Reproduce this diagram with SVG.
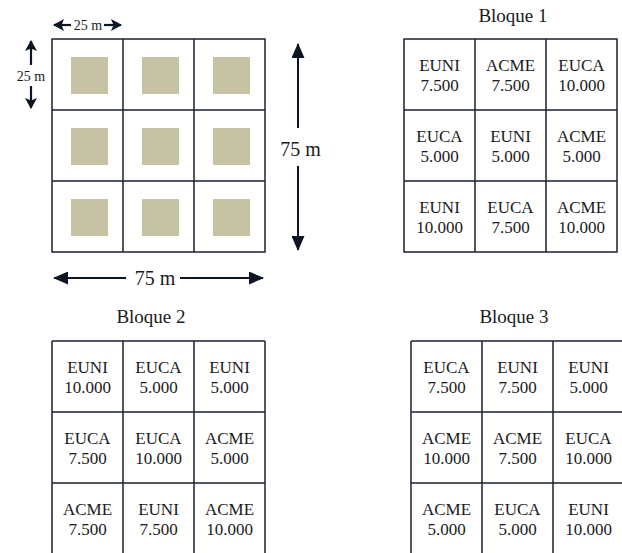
<svg xmlns="http://www.w3.org/2000/svg" width="622" height="553" viewBox="0 0 622 553">
<style>
.bg{fill:#ffffff}
.grid{fill:none;stroke:#1c2233;stroke-width:1.5}
.plot{fill:#c5c3a3}
text{font-family:"Liberation Serif","Times New Roman",serif;fill:#1a1a1a;text-anchor:middle}
.c{font-size:17px}
.t{font-size:19px}
.d{font-size:20px}
.s{font-size:14px}
.ar{stroke:#0d1424;stroke-width:2;fill:none}
.ars{stroke:#0d1424;stroke-width:2.2;fill:none}
</style>
<defs>
<marker id="big" viewBox="0 0 15 13" refX="14" refY="6.5" markerWidth="15" markerHeight="13" markerUnits="userSpaceOnUse" orient="auto">
<path d="M0,0 L15,6.5 L0,13 z" fill="#0d1424"/>
</marker>
<marker id="small" viewBox="0 0 11 12" refX="10" refY="6" markerWidth="11" markerHeight="12" markerUnits="userSpaceOnUse" orient="auto">
<path d="M0,0 L11,6 L0,12 L2.5,6 z" fill="#0d1424"/>
</marker>
</defs>
<rect class="bg" x="0" y="0" width="622" height="553"/>

<g id="field">
<g class="plot">
<rect x="71" y="57" width="37" height="37"/><rect x="142" y="57" width="37" height="37"/><rect x="213" y="57" width="37" height="37"/>
<rect x="71" y="128" width="37" height="37"/><rect x="142" y="128" width="37" height="37"/><rect x="213" y="128" width="37" height="37"/>
<rect x="71" y="199" width="37" height="37"/><rect x="142" y="199" width="37" height="37"/><rect x="213" y="199" width="37" height="37"/>
</g>
<path class="grid" d="M52,39 H265 V252 H52 Z M123,39 V252 M194,39 V252 M52,110 H265 M52,181 H265"/>
</g>

<g id="bloque1">
<text class="t" x="513" y="22">Bloque 1</text>
<path class="grid" d="M404,39 H617 V252 H404 Z M475,39 V252 M546,39 V252 M404,110 H617 M404,181 H617"/>
<g class="c">
<text x="439.5" y="70.5">EUNI</text><text x="439.5" y="91">7.500</text>
<text x="510.5" y="70.5">ACME</text><text x="510.5" y="91">7.500</text>
<text x="581.5" y="70.5">EUCA</text><text x="581.5" y="91">10.000</text>
<text x="439.5" y="141.5">EUCA</text><text x="439.5" y="162">5.000</text>
<text x="510.5" y="141.5">EUNI</text><text x="510.5" y="162">5.000</text>
<text x="581.5" y="141.5">ACME</text><text x="581.5" y="162">5.000</text>
<text x="439.5" y="212.5">EUNI</text><text x="439.5" y="233">10.000</text>
<text x="510.5" y="212.5">EUCA</text><text x="510.5" y="233">7.500</text>
<text x="581.5" y="212.5">ACME</text><text x="581.5" y="233">10.000</text>
</g>
</g>

<g id="bloque2">
<text class="t" x="151" y="323">Bloque 2</text>
<path class="grid" d="M52,341 H265 M52,341 V560 M123,341 V560 M194,341 V560 M265,341 V560 M52,412 H265 M52,483 H265"/>
<g class="c">
<text x="87.5" y="372.5">EUNI</text><text x="87.5" y="393">10.000</text>
<text x="158.5" y="372.5">EUCA</text><text x="158.5" y="393">5.000</text>
<text x="229.5" y="372.5">EUNI</text><text x="229.5" y="393">5.000</text>
<text x="87.5" y="443.5">EUCA</text><text x="87.5" y="464">7.500</text>
<text x="158.5" y="443.5">EUCA</text><text x="158.5" y="464">10.000</text>
<text x="229.5" y="443.5">ACME</text><text x="229.5" y="464">5.000</text>
<text x="87.5" y="514.5">ACME</text><text x="87.5" y="535">7.500</text>
<text x="158.5" y="514.5">EUNI</text><text x="158.5" y="535">7.500</text>
<text x="229.5" y="514.5">ACME</text><text x="229.5" y="535">10.000</text>
</g>
</g>

<g id="bloque3">
<text class="t" x="514" y="323">Bloque 3</text>
<path class="grid" d="M411,341 H630 M411,341 V560 M482,341 V560 M553,341 V560 M624,341 V560 M411,412 H630 M411,483 H630"/>
<g class="c">
<text x="446.5" y="372.5">EUCA</text><text x="446.5" y="393">7.500</text>
<text x="517.5" y="372.5">EUNI</text><text x="517.5" y="393">7.500</text>
<text x="588.5" y="372.5">EUNI</text><text x="588.5" y="393">5.000</text>
<text x="446.5" y="443.5">ACME</text><text x="446.5" y="464">10.000</text>
<text x="517.5" y="443.5">ACME</text><text x="517.5" y="464">7.500</text>
<text x="588.5" y="443.5">EUCA</text><text x="588.5" y="464">10.000</text>
<text x="446.5" y="514.5">ACME</text><text x="446.5" y="535">5.000</text>
<text x="517.5" y="514.5">EUCA</text><text x="517.5" y="535">5.000</text>
<text x="588.5" y="514.5">EUNI</text><text x="588.5" y="535">10.000</text>
</g>
</g>

<g id="connectors">
<line class="ars" x1="71" y1="25" x2="54" y2="25" marker-end="url(#small)"/>
<line class="ars" x1="104" y1="25" x2="121" y2="25" marker-end="url(#small)"/>
<line class="ars" x1="31" y1="65" x2="31" y2="41" marker-end="url(#small)"/>
<line class="ars" x1="31" y1="86" x2="31" y2="108" marker-end="url(#small)"/>
<line class="ar" x1="298" y1="128" x2="298" y2="44" marker-end="url(#big)"/>
<line class="ar" x1="298" y1="166" x2="298" y2="250" marker-end="url(#big)"/>
<line class="ar" x1="126" y1="278" x2="54" y2="278" marker-end="url(#big)"/>
<line class="ar" x1="180" y1="278" x2="263" y2="278" marker-end="url(#big)"/>
</g>
<g id="dimension-labels">
<text class="s" x="88" y="30">25 m</text>
<text class="s" x="31" y="80.5">25 m</text>
<text class="d" x="300.5" y="155.5">75 m</text>
<text class="d" x="155" y="285">75 m</text>
</g>
</svg>
